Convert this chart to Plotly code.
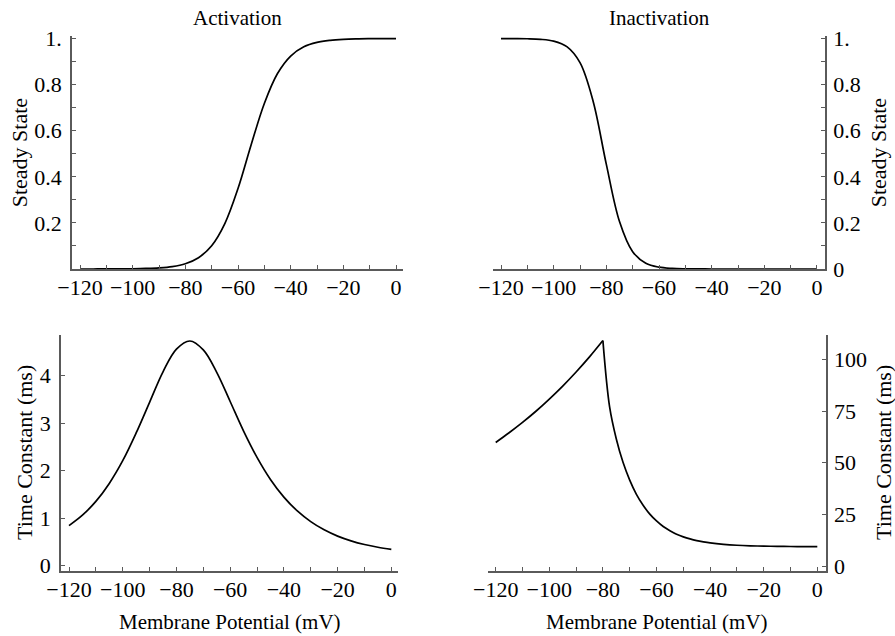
import plotly.graph_objects as go

# Membrane potential sample points (mV)
v_grid = [-120, -115, -110, -105, -100, -95, -90, -85, -80, -75, -70, -65, -60,
          -55, -50, -45, -40, -35, -30, -25, -20, -15, -10, -5, 0]

# Steady-state activation
m_inf = [0.00005, 0.0001, 0.0002, 0.0005, 0.0010, 0.0023, 0.0049, 0.0106, 0.023,
         0.049, 0.101, 0.197, 0.349, 0.539, 0.718, 0.848, 0.924, 0.964, 0.983,
         0.992, 0.9964, 0.9984, 0.9993, 0.9997, 0.9998]

# Steady-state inactivation
h_inf = [0.9999, 0.9996, 0.9989, 0.9964, 0.9886, 0.9645, 0.895, 0.727, 0.454,
         0.206, 0.075, 0.0248, 0.0079, 0.0025, 0.0008, 0.00024, 0.00008, 0.00003,
         0.00001, 0.0, 0.0, 0.0, 0.0, 0.0, 0.0]

# Activation time constant (ms)
tau_m = [0.844, 1.063, 1.353, 1.732, 2.21, 2.794, 3.44, 4.082, 4.559, 4.731, 4.543,
         4.071, 3.457, 2.835, 2.281, 1.816, 1.444, 1.153, 0.928, 0.755, 0.623, 0.523,
         0.446, 0.388, 0.344]

# Inactivation time constant (ms): hyperpolarized branch and depolarized branch,
# which meet at the -80 mV peak
v_hyp = [-120, -115, -110, -105, -100, -95, -90, -85, -80]
tau_h_hyp = [59.8, 64.5, 69.5, 74.9, 80.8, 87.1, 93.9, 101.2, 109.1]
v_dep = [-80, -77.5, -75, -72.5, -70, -67.5, -65, -62.5, -60, -57.5, -55, -52.5, -50,
         -47.5, -45, -42.5, -40, -35, -30, -25, -20, -15, -10, -5, 0]
tau_h_dep = [109.1, 77.0, 61.5, 50.2, 41.6, 34.7, 29.4, 25.1, 21.8, 19.1, 17.1, 15.4,
             14.1, 13.1, 12.3, 11.7, 11.2, 10.5, 10.05, 9.78, 9.61, 9.5, 9.44, 9.4, 9.37]

# Tick positions and labels
x_ticks = [-120, -110, -100, -90, -80, -70, -60, -50, -40, -30, -20, -10, 0]
x_labels = ["\u2212120", "", "\u2212100", "", "\u221280", "", "\u221260", "",
            "\u221240", "", "\u221220", "", "0"]
ss_ticks = [0, 0.1, 0.2, 0.3, 0.4, 0.5, 0.6, 0.7, 0.8, 0.9, 1.0]
ss_labels_left = ["", "", "0.2", "", "0.4", "", "0.6", "", "0.8", "", "1."]
ss_labels_right = ["0", "", "0.2", "", "0.4", "", "0.6", "", "0.8", "", "1."]
taum_ticks = [0, 1, 2, 3, 4]
tauh_ticks = [0, 25, 50, 75, 100]

FONT = "Liberation Serif"
AXC = "#5a5a5a"
W, H = 895, 636


def px(x):
    return x / W


def py(y):
    return 1 - y / H


line = dict(color="black", width=1.7, shape="spline", smoothing=1.0)

fig = go.Figure()
fig.add_trace(go.Scatter(x=v_grid, y=m_inf, mode="lines", line=line, xaxis="x", yaxis="y"))
fig.add_trace(go.Scatter(x=v_grid, y=h_inf, mode="lines", line=line, xaxis="x2", yaxis="y2"))
fig.add_trace(go.Scatter(x=v_grid, y=tau_m, mode="lines", line=line, xaxis="x3", yaxis="y3"))
fig.add_trace(go.Scatter(x=v_hyp, y=tau_h_hyp, mode="lines", line=line, xaxis="x4", yaxis="y4"))
fig.add_trace(go.Scatter(x=v_dep, y=tau_h_dep, mode="lines", line=line, xaxis="x4", yaxis="y4"))

tickfont = dict(family=FONT, size=22, color="black")


def xaxis(dom, rng, anchor):
    return dict(domain=dom, range=rng, anchor=anchor, showline=True, linecolor=AXC,
                linewidth=1.6, ticks="inside", ticklen=4, tickwidth=1, tickcolor=AXC,
                tickvals=x_ticks, ticktext=x_labels, tickfont=tickfont, automargin=False,
                showgrid=False, zeroline=False, ticklabelstandoff=-2)


def yaxis(dom, rng, anchor, side, vals, texts, standoff):
    return dict(domain=dom, range=rng, anchor=anchor, side=side, showline=True,
                linecolor=AXC, linewidth=1.6, ticks="inside", ticklen=4, tickwidth=1,
                tickcolor=AXC, tickvals=vals, ticktext=texts, tickfont=tickfont,
                automargin=False, showgrid=False, zeroline=False,
                ticklabelstandoff=standoff)


top_dom = [py(269.0), py(36.2)]
bot_dom = [py(571.0), py(335.0)]

fig.update_layout(
    width=W, height=H, margin=dict(l=0, r=0, t=0, b=0, autoexpand=False),
    paper_bgcolor="white", plot_bgcolor="white", showlegend=False,
    xaxis=xaxis([px(72), px(403)], [-123.04, 2.66], "y"),
    yaxis=yaxis(top_dom, [0, 1.01], "x", "left", ss_ticks, ss_labels_left, 4),
    xaxis2=xaxis([px(493), px(825)], [-123.04, 3.04], "y2"),
    yaxis2=yaxis(top_dom, [0, 1.01], "x2", "right", ss_ticks, ss_labels_right, 2),
    xaxis3=xaxis([px(61), px(398.3)], [-122.98, 2.6], "y3"),
    yaxis3=yaxis(bot_dom, [-0.112, 4.857], "x3", "left", taum_ticks,
                 [str(t) for t in taum_ticks], 4),
    xaxis4=xaxis([px(487.7), px(825.7)], [-122.99, 3.13], "y4"),
    yaxis4=yaxis(bot_dom, [-2.42, 111.8], "x4", "right", tauh_ticks,
                 [str(t) for t in tauh_ticks], 2),
)

labfont = dict(family=FONT, size=21, color="black")
axfont = dict(family=FONT, size=22, color="black")
annotations = [
    dict(text="Activation", x=px(237.5), y=py(18), font=labfont),
    dict(text="Inactivation", x=px(659), y=py(18), font=labfont),
    dict(text="Steady State", x=px(19), y=py(153.3), textangle=-90, font=axfont),
    dict(text="Steady State", x=px(878), y=py(153.3), textangle=-90, font=axfont),
    dict(text="Time Constant (ms)", x=px(24), y=py(453), textangle=-90, font=axfont),
    dict(text="Time Constant (ms)", x=px(883), y=py(453), textangle=-90, font=axfont),
    dict(text="Membrane Potential (mV)", x=px(229.7), y=py(621.7), font=labfont),
    dict(text="Membrane Potential (mV)", x=px(656.7), y=py(621.7), font=labfont),
]
for a in annotations:
    a.update(xref="paper", yref="paper", showarrow=False, xanchor="center", yanchor="middle")
fig.update_layout(annotations=annotations)

fig.write_html("out.html")
